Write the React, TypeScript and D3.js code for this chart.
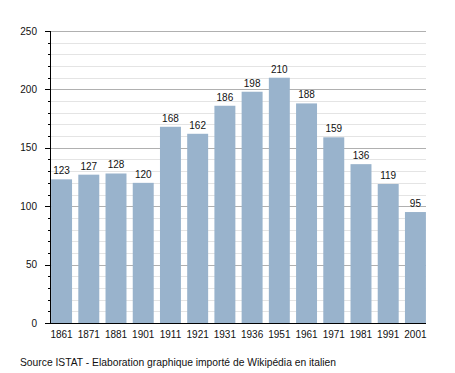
import { useEffect, useRef } from 'react';
import * as d3 from 'd3';

const years = ['1861', '1871', '1881', '1901', '1911', '1921', '1931', '1936', '1951', '1961', '1971', '1981', '1991', '2001'];
const population = [123, 127, 128, 120, 168, 162, 186, 198, 210, 188, 159, 136, 119, 95];
const majorTicks = [0, 50, 100, 150, 200, 250];
const sourceText = 'Source ISTAT - Elaboration graphique importé de Wikipédia en italien';

export default function App() {
	const svgRef = useRef<SVGSVGElement | null>(null);
	const width = 455;
	const height = 373;

	useEffect(() => {
		if (!svgRef.current) return;
		const margin = { top: 31, right: 29, bottom: 50, left: 50 };
		const font = '"Liberation Sans", Arial, sans-serif';

		const svg = d3.select(svgRef.current);
		svg.selectAll('*').remove();

		const x = d3
			.scaleBand<string>()
			.domain(years)
			.range([margin.left, width - margin.right + 1])
			.paddingInner(0.23)
			.paddingOuter(0.04);

		const y = d3
			.scaleLinear()
			.domain([0, 250])
			.range([height - margin.bottom, margin.top]);

		const minorTicks = d3.range(0, 251, 10).filter((v) => v % 50 !== 0);

		// grid
		const grid = svg.append('g');
		grid
			.selectAll('line.minor')
			.data(minorTicks)
			.join('line')
			.attr('class', 'minor')
			.attr('x1', margin.left)
			.attr('x2', width - margin.right)
			.attr('y1', (d) => Math.round(y(d)) + 0.5)
			.attr('y2', (d) => Math.round(y(d)) + 0.5)
			.attr('stroke', '#e4e4e4');
		grid
			.selectAll('line.major')
			.data(majorTicks.filter((d) => d > 0))
			.join('line')
			.attr('class', 'major')
			.attr('x1', margin.left)
			.attr('x2', width - margin.right)
			.attr('y1', (d) => Math.round(y(d)) + 0.5)
			.attr('y2', (d) => Math.round(y(d)) + 0.5)
			.attr('stroke', '#b0b0b0');

		// bars
		svg
			.append('g')
			.selectAll('rect')
			.data(population)
			.join('rect')
			.attr('x', (_, i) => x(years[i])!)
			.attr('y', (d) => y(d))
			.attr('width', x.bandwidth())
			.attr('height', (d) => y(0) - y(d))
			.attr('fill', '#99b3cc');

		// value labels
		svg
			.append('g')
			.selectAll('text')
			.data(population)
			.join('text')
			.attr('x', (_, i) => x(years[i])! + x.bandwidth() / 2)
			.attr('y', (d) => y(d) - 5)
			.attr('text-anchor', 'middle')
			.style('font-family', font)
			.style('font-size', '10px')
			.attr('fill', '#111')
			.text((d) => d);

		// y axis
		const yAxis = svg.append('g');
		yAxis
			.append('line')
			.attr('x1', margin.left + 0.5)
			.attr('x2', margin.left + 0.5)
			.attr('y1', y(250))
			.attr('y2', y(0))
			.attr('stroke', '#000');
		yAxis
			.selectAll('line.mt')
			.data(minorTicks)
			.join('line')
			.attr('class', 'mt')
			.attr('x1', margin.left - 2)
			.attr('x2', margin.left)
			.attr('y1', (d) => Math.round(y(d)) + 0.5)
			.attr('y2', (d) => Math.round(y(d)) + 0.5)
			.attr('stroke', '#000');
		yAxis
			.selectAll('line.Mt')
			.data(majorTicks)
			.join('line')
			.attr('class', 'Mt')
			.attr('x1', margin.left - 5)
			.attr('x2', margin.left)
			.attr('y1', (d) => Math.round(y(d)) + 0.5)
			.attr('y2', (d) => Math.round(y(d)) + 0.5)
			.attr('stroke', '#000');
		yAxis
			.selectAll('text')
			.data(majorTicks)
			.join('text')
			.attr('x', margin.left - 13)
			.attr('y', (d) => y(d))
			.attr('dy', '0.35em')
			.attr('text-anchor', 'end')
			.style('font-family', font)
			.style('font-size', '10px')
			.attr('fill', '#111')
			.text((d) => d);

		// x axis
		svg
			.append('line')
			.attr('x1', margin.left)
			.attr('x2', width - margin.right)
			.attr('y1', y(0) + 0.5)
			.attr('y2', y(0) + 0.5)
			.attr('stroke', '#000');
		svg
			.append('g')
			.selectAll('text')
			.data(years)
			.join('text')
			.attr('x', (d) => x(d)! + x.bandwidth() / 2)
			.attr('y', y(0) + 11)
			.attr('dy', '0.35em')
			.attr('text-anchor', 'middle')
			.style('font-family', font)
			.style('font-size', '10px')
			.attr('fill', '#111')
			.text((d) => d);

		// source
		svg
			.append('text')
			.attr('x', 20)
			.attr('y', 362)
			.attr('dy', '0.35em')
			.style('font-family', font)
			.style('font-size', '10.3px')
			.attr('fill', '#111')
			.text(sourceText);
	}, []);

	return (
		<svg
			ref={svgRef}
			width={width}
			height={height}
			style={{ position: 'absolute', left: 0, top: 0, background: '#fff' }}
		/>
	);
}
